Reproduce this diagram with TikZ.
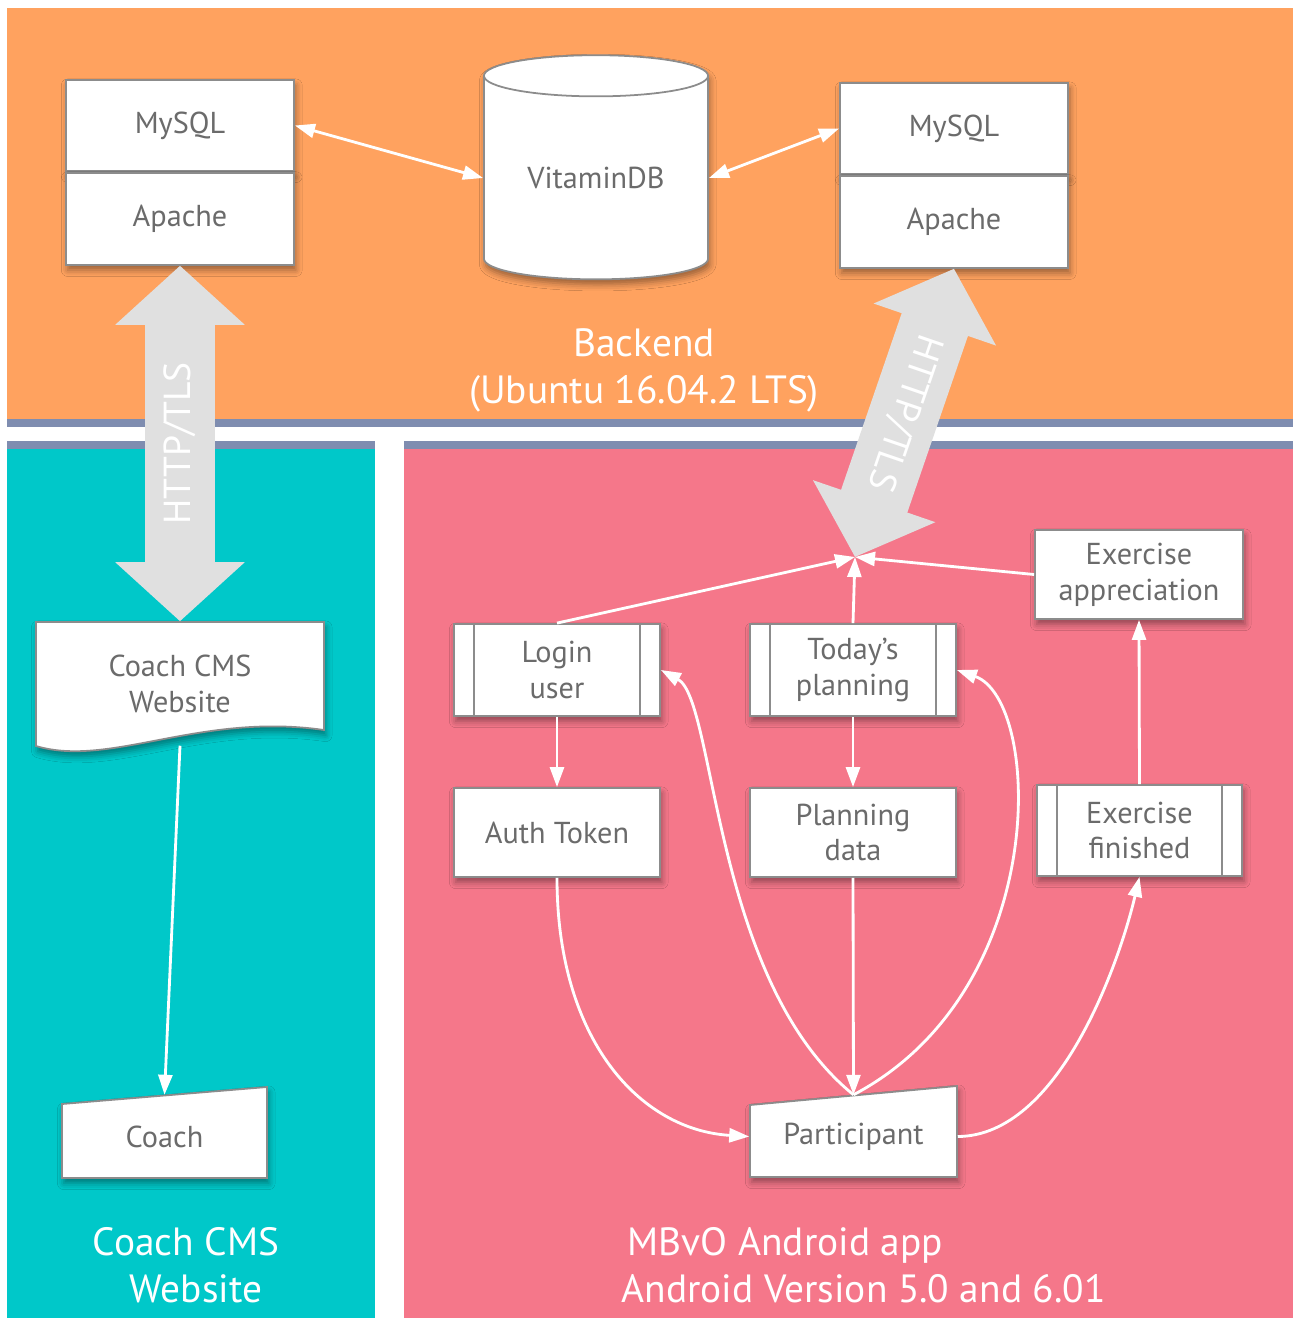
\documentclass[tikz,border=0pt]{standalone}
\usepackage{fontspec}
\setmainfont{PT Sans}
\usetikzlibrary{arrows.meta,shapes.geometric,shadows.blur}

\definecolor{backorange}{HTML}{FFA25F}
\definecolor{coachteal}{HTML}{00C8C9}
\definecolor{apppink}{HTML}{F5778A}
\definecolor{bandblue}{HTML}{7F8DB0}
\definecolor{arrowgray}{HTML}{E0E0E0}
\definecolor{boxgray}{HTML}{8C8C8C}
\definecolor{textgray}{HTML}{6B6B6B}

\begin{document}
\begin{tikzpicture}[x=0.01cm, y=-0.01cm,
    shadowed/.style={blur shadow={shadow xshift=0.5pt, shadow yshift=-1.5pt, shadow blur radius=1.8pt, shadow opacity=40}},
    boxtext/.style={text=textgray, font=\fontsize{8.6}{10.2}\selectfont, align=center, inner sep=0pt},
    box/.style={boxtext, draw=boxgray, fill=white, line width=0.5pt, minimum width=2.06cm, minimum height=0.89cm, shadowed},
    process/.style={box, path picture={
        \draw[boxgray, line width=0.5pt]
          ([xshift=0.2cm]path picture bounding box.north west) -- ([xshift=0.2cm]path picture bounding box.south west)
          ([xshift=-0.2cm]path picture bounding box.north east) -- ([xshift=-0.2cm]path picture bounding box.south east);}},
    manual/.style={draw=boxgray, fill=white, line width=0.5pt, shadowed},
    link/.style={draw=white, line width=0.8pt, >={Triangle[length=0.2cm,width=0.14cm]}, ->},
    bigarrow/.style={draw=arrowgray, line width=0.7cm, >={Triangle[length=0.59cm,width=1.26cm]}, <->},
    tls/.style={text=white, font=\fontsize{10.7}{12}\selectfont},
    label/.style={text=white, font=\fontsize{11.2}{13.4}\selectfont, align=center}]

    % canvas and zones
    \useasboundingbox (0,0) rectangle (1293,1318);
    \fill[white] (0,0) rectangle (1293,1318);
    \fill[backorange] (7,8) rectangle (1293,419);
    \fill[bandblue] (7,419) rectangle (1293,427);
    \fill[bandblue] (7,441) rectangle (375,449);
    \fill[bandblue] (404,441) rectangle (1293,449);
    \fill[coachteal] (7,449) rectangle (375,1318);
    \fill[apppink] (404,449) rectangle (1293,1318);

    % backend
    \node[box, minimum width=2.28cm, minimum height=0.91cm] (lmysql) at (180,125.5) {MySQL};
    \node[box, minimum width=2.28cm, minimum height=0.92cm, anchor=north] (lapache) at (lmysql.south) {Apache};
    \node[box, minimum width=2.28cm, minimum height=0.91cm] (rmysql) at (954,128.5) {MySQL};
    \node[box, minimum width=2.28cm, minimum height=0.92cm, anchor=north] (rapache) at (rmysql.south) {Apache};
    \node[box, cylinder, shape border rotate=90, aspect=0.3, minimum width=2.24cm, minimum height=2.24cm] (vitamin) at (596,178) {VitaminDB};
    \node[label] (backend) at (644,370) {Backend\\(Ubuntu 16.04.2 LTS)};

    \draw[link, <->] (lmysql.east) -- (vitamin.west);
    \draw[link, <->] (vitamin.east) -- (rmysql.west);

    % coach side
    \node[boxtext, minimum width=2.88cm, minimum height=1.23cm] (cms) at (180,683.5) {};
    \path[manual] (36,622) -- (324,622) -- (324,730) .. controls (200,712) and (110,768) .. (36,746) -- cycle;
    \node[boxtext] at (cms) {Coach CMS\\Website};
    \path[manual] (62,1104) -- (267,1087) -- (267,1178) -- (62,1178) -- cycle;
    \node[boxtext, minimum width=2.05cm, minimum height=0.83cm] (coach) at (164.5,1137) {Coach};
    \node[label] (cmslabel) at (186,1265) {Coach CMS\\\hspace*{0.2cm}Website};

    \draw[bigarrow] (cms.north) -- node[sloped, tls] {HTTP/TLS} (lapache.south);
    \draw[link] (cms.south) -- (coach.north);

    % app side
    \coordinate (hub) at (855,557);
    \node[process, minimum height=0.92cm] (login) at (557,670) {Login\\user};
    \node[process, minimum height=0.92cm] (today) at (853,670) {Today’s\\planning};
    \node[box, minimum width=2.08cm] (appreciation) at (1139,574.5) {Exercise\\appreciation};
    \node[box] (auth) at (557,832.5) {Auth Token};
    \node[box] (plandata) at (853,832.5) {Planning\\data};
    \node[process, minimum width=2.05cm, minimum height=0.91cm] (finished) at (1139.5,830.5) {Exercise\\finished};
    \path[manual] (750,1105) -- (957,1086) -- (957,1177) -- (750,1177) -- cycle;
    \node[boxtext, minimum width=2.07cm, minimum height=0.82cm] (participant) at (853.5,1136.5) {Participant};
    \node[label, align=left, anchor=west, inner sep=0pt] (applabel) at (621,1265) {\hspace*{0.06cm}MBvO Android app\\Android Version 5.0 and 6.01};

    \draw[bigarrow] (rapache.south) -- node[sloped, allow upside down, tls] {HTTP/TLS} (hub);
    \draw[link] (login.north) -- (hub);
    \draw[link] (today.north) -- (hub);
    \draw[link] (appreciation.west) -- (hub);
    \draw[link] (login.south) -- (auth.north);
    \draw[link] (today.south) -- (plandata.north);
    \draw[link] (plandata.south) -- (participant.north);
    \draw[link] (auth.south) .. controls (557,1040) and (640,1130) .. (participant.west);
    \draw[link] (participant.north) .. controls (712,980) and (716,700) .. (login.east);
    \draw[link] (participant.north) .. controls (1052,990) and (1042,700) .. (today.east);
    \draw[link] (participant.east) .. controls (1060,1136) and (1120,960) .. (finished.south);
    \draw[link] (finished.north) -- (appreciation.south);
\end{tikzpicture}
\end{document}
